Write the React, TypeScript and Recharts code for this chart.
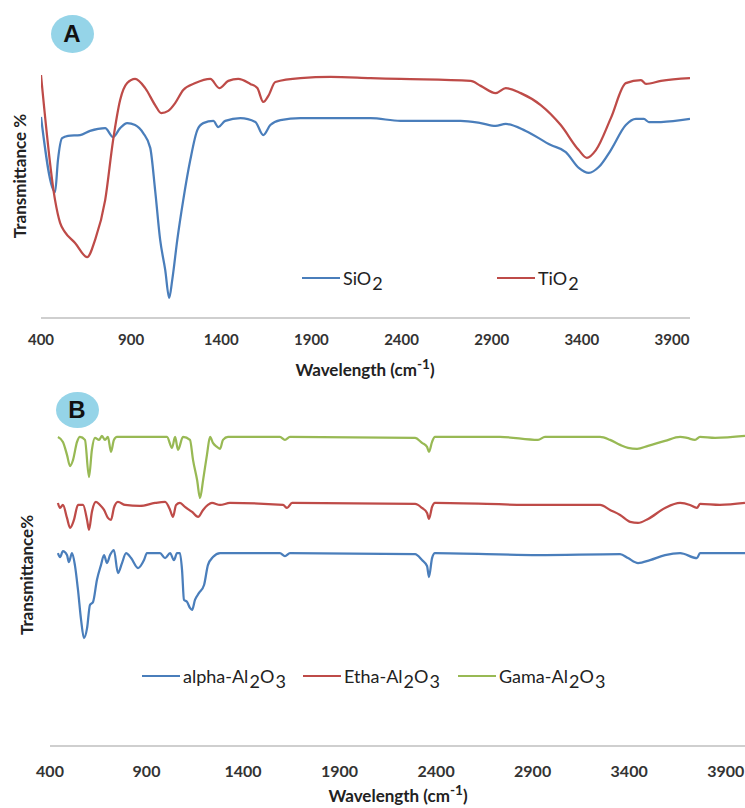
import { LineChart, Line, XAxis, YAxis, Legend } from "recharts";

const FONT = "Lato, 'Open Sans', sans-serif";
const AXIS_GREY = "#BFBFBF";

const wnTicks = [400, 900, 1400, 1900, 2400, 2900, 3400, 3900];

// Panel A
const siO2Wn = [400, 478, 494, 517, 550, 617, 672, 756, 800, 839, 878, 922, 967, 1006, 1033, 1061, 1089, 1111, 1128, 1156, 1189, 1228, 1267, 1300, 1356, 1383, 1422, 1506, 1589, 1633, 1672, 1728, 1839, 2228, 2394, 2728, 2839, 2922, 2978, 3089, 3228, 3311, 3383, 3439, 3494, 3561, 3644, 3700, 3744, 3772, 3839, 4000];
const siO2T = [72.3, 45.3, 56.8, 64.7, 65.5, 65.8, 67.3, 68.3, 65.1, 68.3, 70.1, 69.4, 66.5, 61.2, 46.0, 28.1, 17.3, 7.2, 13.7, 28.1, 42.4, 56.8, 67.6, 70.1, 70.9, 68.7, 70.9, 71.9, 70.5, 65.8, 69.4, 71.2, 71.9, 71.9, 70.9, 70.9, 70.1, 69.1, 69.8, 67.3, 62.2, 59.7, 54.0, 52.2, 54.3, 60.4, 69.4, 71.6, 71.6, 70.5, 70.5, 71.6];

const tiO2Wn = [400, 478, 506, 533, 589, 656, 700, 756, 800, 839, 878, 922, 978, 1033, 1067, 1106, 1144, 1189, 1256, 1339, 1389, 1439, 1494, 1561, 1600, 1633, 1661, 1700, 1839, 2006, 2228, 2394, 2783, 2839, 2922, 2978, 3061, 3172, 3283, 3383, 3428, 3478, 3561, 3644, 3728, 3756, 3839, 4000];
const tiO2T = [87.4, 42.4, 34.2, 30.9, 27.0, 21.9, 28.1, 42.4, 64.0, 78.4, 84.5, 86.0, 82.7, 76.6, 73.7, 74.5, 77.3, 82.0, 84.5, 86.0, 82.7, 85.3, 86.0, 84.2, 82.7, 77.7, 79.9, 84.9, 86.3, 86.7, 86.3, 86.0, 85.3, 83.5, 80.9, 82.7, 80.9, 76.6, 69.4, 60.4, 57.6, 60.4, 71.9, 84.5, 85.6, 84.2, 85.3, 86.3];

// Panel B
const alphaWn = [441, 452, 467, 488, 498, 514, 529, 545, 561, 576, 592, 607, 623, 643, 664, 680, 695, 711, 731, 752, 773, 794, 820, 856, 887, 902, 970, 996, 1022, 1042, 1058, 1073, 1084, 1094, 1110, 1125, 1136, 1151, 1172, 1198, 1218, 1244, 1281, 1591, 1617, 1643, 2291, 2327, 2353, 2363, 2379, 2394, 2928, 3353, 3394, 3446, 3508, 3586, 3664, 3751, 3767, 4000];
const alphaT = [58.1, 56.9, 58.7, 57.5, 55.4, 58.1, 54.5, 47.0, 38.0, 32.5, 35.5, 42.5, 43.4, 50.0, 54.5, 57.5, 55.1, 57.5, 59.0, 52.1, 55.1, 58.1, 56.6, 53.6, 56.0, 58.1, 58.1, 56.6, 58.1, 56.0, 58.1, 58.1, 53.0, 44.0, 43.4, 41.6, 41.0, 44.0, 46.1, 48.5, 54.5, 56.9, 58.1, 58.1, 57.2, 58.1, 57.8, 56.0, 54.2, 50.9, 56.6, 58.1, 57.5, 57.8, 56.6, 55.1, 56.0, 57.5, 58.1, 56.6, 58.1, 58.1];

const ethaWn = [441, 452, 467, 488, 504, 524, 545, 571, 592, 602, 617, 638, 659, 680, 700, 716, 731, 752, 789, 866, 944, 996, 1022, 1037, 1053, 1073, 1099, 1136, 1167, 1193, 1218, 1239, 1281, 1332, 1607, 1628, 1654, 2291, 2327, 2353, 2363, 2379, 2394, 2928, 3249, 3301, 3353, 3405, 3446, 3498, 3586, 3664, 3715, 3751, 3767, 3870, 4000];
const ethaT = [73.2, 71.7, 72.6, 68.7, 65.7, 68.1, 72.6, 72.6, 68.1, 65.1, 70.5, 73.5, 72.6, 71.1, 68.7, 68.1, 71.7, 73.5, 72.6, 72.3, 73.2, 73.5, 71.1, 69.0, 72.6, 73.2, 72.0, 70.5, 69.0, 71.1, 72.6, 73.2, 72.6, 73.2, 72.6, 71.7, 73.2, 72.9, 71.7, 70.2, 68.4, 72.0, 73.2, 72.6, 72.6, 71.1, 69.6, 67.5, 67.2, 68.4, 71.7, 73.2, 72.6, 71.7, 72.9, 72.6, 73.2];

const gamaWn = [441, 467, 488, 504, 519, 540, 555, 581, 602, 617, 633, 654, 669, 685, 700, 716, 731, 747, 1006, 1032, 1048, 1063, 1089, 1125, 1141, 1162, 1177, 1193, 1213, 1229, 1244, 1265, 1281, 1296, 1322, 1591, 1617, 1643, 2291, 2327, 2353, 2363, 2379, 2394, 2731, 2928, 2964, 3249, 3301, 3353, 3394, 3441, 3498, 3586, 3664, 3700, 3741, 3767, 3845, 4000];
const gamaT = [93.1, 91.6, 87.7, 84.3, 86.1, 91.6, 93.1, 92.2, 81.0, 89.2, 92.8, 92.2, 93.4, 92.2, 93.1, 88.6, 92.2, 93.1, 93.1, 89.8, 93.1, 89.2, 93.1, 92.2, 86.1, 80.1, 74.7, 80.1, 87.7, 93.1, 91.3, 90.1, 89.5, 92.2, 93.1, 93.1, 92.2, 93.1, 92.8, 91.3, 90.1, 88.6, 91.6, 93.1, 93.1, 92.2, 93.1, 93.1, 92.2, 90.7, 89.8, 89.5, 90.4, 91.9, 93.1, 92.8, 92.2, 93.1, 92.8, 93.4];

const seriesA = ["SiO2", "TiO2"];
const seriesB = ["alpha-Al2O3", "Etha-Al2O3", "Gama-Al2O3"];

const BLUE = "#4A7EBB";
const RED = "#BE4B48";
const GREEN = "#98B954";

const zip = (wn: number[], t: number[]) => wn.map((w, i) => ({ w, t: t[i] }));

// digits become subscripts: SiO2 -> SiO<sub>2</sub>
function Formula({ text }: { text: string }) {
  const parts = text.split(/(\d+)/).filter(Boolean);
  return (
    <>
      {parts.map((p, i) =>
        /^\d+$/.test(p) ? (
          <span key={i} style={{ position: "relative", top: "0.3em", marginLeft: "0.06em" }}>
            {p}
          </span>
        ) : (
          <span key={i}>{p}</span>
        )
      )}
    </>
  );
}

// legend keeps series order (recharts sorts payload by default)
const makeLegend = (order: string[], lefts: number[]) => (props: any) => {
  const items = [...(props.payload || [])].sort((a: any, b: any) => order.indexOf(a.value) - order.indexOf(b.value));
  return (
    <div style={{ position: "relative", width: 745, height: 24 }}>
      {items.map((entry: any, i: number) => (
        <div
          key={entry.value}
          style={{ position: "absolute", left: lefts[i], top: 0, display: "flex", alignItems: "center", whiteSpace: "nowrap" }}
        >
          <span style={{ display: "inline-block", width: 38, borderTop: `2.5px solid ${entry.color}`, marginRight: 3 }} />
          <span style={{ fontFamily: FONT, fontSize: 18, color: "#222", lineHeight: "22px" }}>
            <Formula text={entry.value} />
          </span>
        </div>
      ))}
    </div>
  );
};

const Badge = ({ letter, cx, cy, rx, ry }: { letter: string; cx: number; cy: number; rx: number; ry: number }) => (
  <div
    style={{
      position: "absolute",
      left: cx - rx,
      top: cy - ry,
      width: rx * 2,
      height: ry * 2,
      borderRadius: "50%",
      background: "#95D4E8",
      display: "flex",
      alignItems: "center",
      justifyContent: "center",
      fontFamily: "'Liberation Sans', Arial, sans-serif",
      fontWeight: 700,
      fontSize: 24,
      color: "#111",
    }}
  >
    {letter}
  </div>
);

const xTitle = (cx: number, cy: number) => (
  <div
    style={{
      position: "absolute",
      left: cx - 120,
      top: cy - 10,
      width: 240,
      height: 20,
      textAlign: "center",
      fontFamily: FONT,
      fontWeight: 700,
      fontSize: 17,
      lineHeight: "20px",
      color: "#222",
      whiteSpace: "nowrap",
    }}
  >
    Wavelength (cm
    <span style={{ fontSize: "0.8em", position: "relative", top: "-0.55em" }}>-1</span>)
  </div>
);

const yTitle = (text: string, cx: number, cy: number) => (
  <div
    style={{
      position: "absolute",
      left: cx - 100,
      top: cy - 11,
      width: 200,
      textAlign: "center",
      transform: "rotate(-90deg)",
      fontFamily: FONT,
      fontWeight: 700,
      fontSize: 17,
      lineHeight: "22px",
      color: "#222",
      whiteSpace: "nowrap",
    }}
  >
    {text}
  </div>
);

export default function App() {
  return (
    <div style={{ position: "absolute", left: 0, top: 0, width: 745, height: 808, background: "#fff", overflow: "hidden" }}>
      {/* Panel A */}
      <div style={{ position: "absolute", left: 0, top: 0 }}>
        <LineChart width={745} height={390} margin={{ top: 40, right: 55, left: 41, bottom: 0 }}>
          <XAxis
            dataKey="w"
            type="number"
            domain={[400, 4000]}
            ticks={wnTicks}
            interval={0}
            allowDataOverflow
            height={72}
            tickLine={false}
            tickMargin={10}
            axisLine={{ stroke: AXIS_GREY, strokeWidth: 1.5 }}
            tick={{ fill: "#333", fontSize: 15, fontWeight: 700, fontFamily: FONT }}
          />
          <YAxis type="number" domain={[0, 100]} width={0} tick={false} tickLine={false} axisLine={{ stroke: AXIS_GREY, strokeWidth: 1.5 }} />
          <Line type="monotone" name={seriesA[0]} data={zip(siO2Wn, siO2T)} dataKey="t" stroke={BLUE} strokeWidth={2.25} dot={false} isAnimationActive={false} />
          <Line type="monotone" name={seriesA[1]} data={zip(tiO2Wn, tiO2T)} dataKey="t" stroke={RED} strokeWidth={2.25} dot={false} isAnimationActive={false} />
          <Legend
            layout="horizontal"
            verticalAlign="middle"
            align="center"
            wrapperStyle={{ left: 0, top: 267, width: 745 }}
            content={makeLegend(seriesA, [302, 497])}
          />
        </LineChart>
      </div>

      {/* Panel B */}
      <div style={{ position: "absolute", left: 0, top: 390 }}>
        <LineChart width={745} height={418} margin={{ top: 24, right: 0, left: 50, bottom: 0 }}>
          <XAxis
            dataKey="w"
            type="number"
            domain={[400, 4000]}
            ticks={wnTicks}
            interval={0}
            allowDataOverflow
            height={62}
            tickLine={false}
            tickMargin={14}
            axisLine={{ stroke: AXIS_GREY, strokeWidth: 1.5 }}
            tick={{ fill: "#333", fontSize: 16, fontWeight: 700, fontFamily: FONT }}
          />
          <YAxis type="number" domain={[0, 100]} width={0} tick={false} tickLine={false} axisLine={{ stroke: AXIS_GREY, strokeWidth: 1.5 }} />
          <Line type="monotone" name={seriesB[0]} data={zip(alphaWn, alphaT)} dataKey="t" stroke={BLUE} strokeWidth={2.25} dot={false} isAnimationActive={false} />
          <Line type="monotone" name={seriesB[1]} data={zip(ethaWn, ethaT)} dataKey="t" stroke={RED} strokeWidth={2.25} dot={false} isAnimationActive={false} />
          <Line type="monotone" name={seriesB[2]} data={zip(gamaWn, gamaT)} dataKey="t" stroke={GREEN} strokeWidth={2.25} dot={false} isAnimationActive={false} />
          <Legend
            layout="horizontal"
            verticalAlign="middle"
            align="center"
            wrapperStyle={{ left: 0, top: 275, width: 745 }}
            content={makeLegend(seriesB, [142, 303, 458])}
          />
        </LineChart>
      </div>

      <Badge letter="A" cx={72} cy={34} rx={21.5} ry={19} />
      <Badge letter="B" cx={77} cy={410} rx={21.5} ry={18} />

      {xTitle(365, 370)}
      {xTitle(398, 796)}
      {yTitle("Transmittance %", 20, 176)}
      {yTitle("Transmittance%", 27, 575)}
    </div>
  );
}
